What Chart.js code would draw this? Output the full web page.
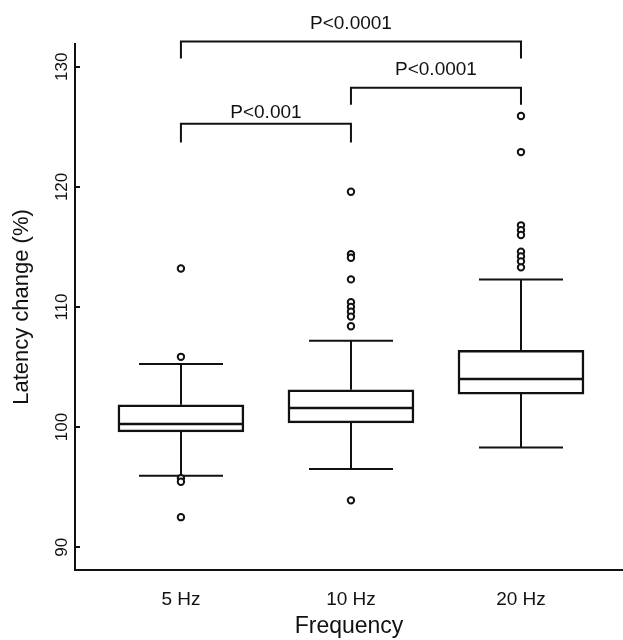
<!DOCTYPE html>
<html>
<head>
<meta charset="utf-8">
<title>Latency change by frequency</title>
<script src="https://cdn.jsdelivr.net/npm/chart.js@4/dist/chart.umd.min.js"></script>
<style>
    html, body { margin: 0; padding: 0; background: #fff; }
    #wrap { width: 623px; height: 640px; }
</style>
</head>
<body>
<div id="wrap"><canvas id="myChart" width="623" height="640"></canvas></div>
<script>
// data
const categories = ["5 Hz", "10 Hz", "20 Hz"];
const xPos = [1, 2, 3];
const q1 = [99.6, 100.35, 102.75];
const median = [100.25, 101.6, 104.0];
const q3 = [101.85, 103.1, 106.4];
const whiskerLow = [95.95, 96.5, 98.3];
const whiskerHigh = [105.25, 107.2, 112.3];
const outliers = [
    [113.2, 105.85, 95.75, 95.45, 92.5],
    [119.6, 114.4, 114.1, 112.3, 110.4, 110.0, 109.6, 109.2, 108.4, 93.9],
    [125.9, 122.9, 116.8, 116.4, 116.0, 114.6, 114.2, 113.8, 113.3]
];
const yTicks = [90, 100, 110, 120, 130];

// significance brackets: from group, to group, level and leg end (same units as y)
const bracketFrom = [1, 2, 1];
const bracketTo = [3, 3, 2];
const bracketTop = [132.1, 128.25, 125.25];
const bracketLeg = [130.7, 126.85, 123.7];
const bracketText = ["P<0.0001", "P<0.0001", "P<0.001"];

const FONT = "'Liberation Sans', Arial, Helvetica, sans-serif";

let boxes = [];
let points = [];
for (let i = 0; i < categories.length; i++) {
    boxes.push({x: xPos[i], y: [q1[i], q3[i]]});
    for (let j = 0; j < outliers[i].length; j++) {
        points.push({x: xPos[i], y: outliers[i][j]});
    }
}

// whiskers, caps, medians, inner y ticks and the brackets
const boxExtras = {
    id: "boxExtras",
    beforeDatasetsDraw(chart) {
        const ctx = chart.ctx;
        const xs = chart.scales.x;
        const ys = chart.scales.y;
        const capHalf = 42;
        ctx.save();
        ctx.strokeStyle = "#111";
        ctx.lineWidth = 2;
        for (let i = 0; i < categories.length; i++) {
            const cx = Math.round(xs.getPixelForValue(xPos[i]));
            ctx.beginPath();
            ctx.moveTo(cx, ys.getPixelForValue(q3[i]));
            ctx.lineTo(cx, ys.getPixelForValue(whiskerHigh[i]));
            ctx.moveTo(cx, ys.getPixelForValue(q1[i]));
            ctx.lineTo(cx, ys.getPixelForValue(whiskerLow[i]));
            ctx.moveTo(cx - capHalf, ys.getPixelForValue(whiskerHigh[i]));
            ctx.lineTo(cx + capHalf, ys.getPixelForValue(whiskerHigh[i]));
            ctx.moveTo(cx - capHalf, ys.getPixelForValue(whiskerLow[i]));
            ctx.lineTo(cx + capHalf, ys.getPixelForValue(whiskerLow[i]));
            ctx.stroke();
        }
        ctx.restore();
    },
    afterDatasetsDraw(chart) {
        const ctx = chart.ctx;
        const xs = chart.scales.x;
        const ys = chart.scales.y;
        const halfBox = 63;
        ctx.save();
        ctx.strokeStyle = "#111";
        ctx.lineWidth = 2.5;
        for (let i = 0; i < categories.length; i++) {
            const cx = xs.getPixelForValue(xPos[i]);
            const my = ys.getPixelForValue(median[i]);
            ctx.beginPath();
            ctx.moveTo(cx - halfBox, my);
            ctx.lineTo(cx + halfBox, my);
            ctx.stroke();
        }
        // small ticks pointing into the plot
        ctx.lineWidth = 2;
        const left = chart.chartArea.left;
        for (let t of yTicks) {
            const ty = Math.round(ys.getPixelForValue(t));
            ctx.beginPath();
            ctx.moveTo(left, ty);
            ctx.lineTo(left + 5, ty);
            ctx.stroke();
        }
        ctx.restore();
    },
    afterDraw(chart) {
        const ctx = chart.ctx;
        const xs = chart.scales.x;
        const ys = chart.scales.y;
        ctx.save();
        ctx.strokeStyle = "#111";
        ctx.fillStyle = "#111";
        ctx.lineWidth = 2;
        ctx.font = "19px " + FONT;
        ctx.textAlign = "center";
        ctx.textBaseline = "alphabetic";
        for (let i = 0; i < bracketText.length; i++) {
            const x1 = xs.getPixelForValue(bracketFrom[i]);
            const x2 = xs.getPixelForValue(bracketTo[i]);
            const yTop = ys.getPixelForValue(bracketTop[i]);
            const yLeg = ys.getPixelForValue(bracketLeg[i]);
            ctx.beginPath();
            ctx.moveTo(x1, yLeg);
            ctx.lineTo(x1, yTop);
            ctx.lineTo(x2, yTop);
            ctx.lineTo(x2, yLeg);
            ctx.stroke();
            const gap = (i == 2) ? 6 : 13;
            ctx.fillText(bracketText[i], (x1 + x2) / 2, yTop - gap);
        }
        ctx.restore();
    }
};

new Chart("myChart", {
    type: "bar",
    data: {
        datasets: [{
            type: "scatter",
            data: points,
            pointStyle: "circle",
            pointRadius: 3.2,
            pointHoverRadius: 3.2,
            borderColor: "#111",
            backgroundColor: "#fff",
            borderWidth: 2,
            order: 0
        }, {
            type: "bar",
            data: boxes,
            barThickness: 126,
            backgroundColor: "#fff",
            borderColor: "#111",
            borderWidth: 2.5,
            borderSkipped: false,
            grouped: false,
            order: 1
        }]
    },
    options: {
        responsive: false,
        animation: false,
        events: [],
        layout: {autoPadding: false, padding: {top: 44, right: 0, left: 0, bottom: 0}},
        plugins: {
            legend: {display: false},
            tooltip: {enabled: false}
        },
        scales: {
            x: {
                type: "linear",
                offset: false,
                min: 0.377,
                max: 3.6,
                grid: {display: false, drawTicks: false, offset: false},
                border: {display: true, color: "#111", width: 2},
                afterBuildTicks: function(scale) {
                    scale.ticks = xPos.map(v => ({value: v}));
                },
                afterFit: function(scale) {
                    scale.height = 70;
                    scale.paddingLeft = 0;
                    scale.paddingRight = 0;
                },
                ticks: {
                    color: "#111",
                    padding: 18,
                    font: {family: FONT, size: 19},
                    maxRotation: 0,
                    autoSkip: false,
                    callback: function(value) {
                        return categories[xPos.indexOf(value)];
                    }
                },
                title: {
                    display: true,
                    text: "Frequency",
                    color: "#111",
                    font: {family: FONT, size: 23},
                    padding: {top: 0, bottom: 0}
                }
            },
            y: {
                min: 88.1,
                max: 131.9,
                grid: {display: false, drawTicks: false},
                border: {display: true, color: "#111", width: 2},
                afterBuildTicks: function(scale) {
                    scale.ticks = yTicks.map(v => ({value: v}));
                },
                afterFit: function(scale) { scale.width = 75; },
                ticks: {
                    color: "#111",
                    padding: -1,
                    minRotation: 90,
                    maxRotation: 90,
                    crossAlign: "center",
                    font: {family: FONT, size: 17}
                },
                title: {
                    display: true,
                    text: "Latency change (%)",
                    color: "#111",
                    font: {family: FONT, size: 22},
                    padding: {top: 9, bottom: 0}
                }
            }
        }
    },
    plugins: [boxExtras]
});
</script>
</body>
</html>
